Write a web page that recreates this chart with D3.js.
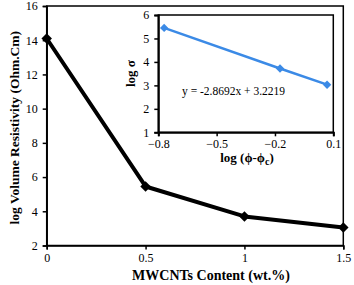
<!DOCTYPE html>
<html>
<head>
<meta charset="utf-8">
<script src="https://cdn.jsdelivr.net/npm/d3@7"></script>
<style>
  body { margin: 0; background: #fff; }
  svg { display: block; font-family: "Liberation Serif", "Times New Roman", serif; }
</style>
</head>
<body>
<svg id="chart" width="354" height="285"></svg>
<script>
// main series: log volume resistivity vs MWCNT content
const content = [0, 0.5, 1, 1.5]
const logRes = [14.1, 5.45, 3.7, 3.05]
const mainXTicks = [0, 0.5, 1, 1.5]
const mainYTicks = [2, 4, 6, 8, 10, 12, 14, 16]

// inset: log sigma vs log(phi - phi_c)
const logPhi = [-0.77, -0.174, 0.068]
const logSigma = [5.45, 3.72, 3.03]
const insetXTicks = [-0.8, -0.5, -0.2, 0.1]
const insetYTicks = [1, 2, 3, 4, 5, 6]
const equation = 'y = -2.8692x + 3.2219'

const svg = d3.select('#chart')

const x = d3.scaleLinear().domain([0, 1.5]).range([46.7, 343.3])
const y = d3.scaleLinear().domain([2, 16]).range([245.5, 6])

const fmt = (d) => (d === 0 ? '0' : String(d))

/* main frame and axes */
svg.append('rect')
  .attr('x', x(0)).attr('y', y(16))
  .attr('width', x(1.5) - x(0)).attr('height', y(2) - y(16))
  .attr('fill', 'none').attr('stroke', '#000').attr('stroke-width', 1.5)

const gy = svg.append('g')
  .attr('transform', `translate(${x(0)},0)`)
  .call(d3.axisLeft(y).tickValues(mainYTicks).tickSize(4).tickPadding(5).tickFormat(fmt))
const gx = svg.append('g')
  .attr('transform', `translate(0,${y(2)})`)
  .call(d3.axisBottom(x).tickValues(mainXTicks).tickSize(4).tickPadding(4).tickFormat(fmt))
;[gx, gy].forEach((g) => {
  g.select('.domain').attr('stroke-width', 1.5)
  g.selectAll('.tick line').attr('stroke-width', 1.5)
  g.selectAll('.tick text').attr('font-size', 12).attr('font-family', 'Liberation Serif').attr('fill', '#000')
})

const mainPts = content.map((c, i) => [x(c), y(logRes[i])])
svg.append('path')
  .attr('d', d3.line()(mainPts))
  .attr('fill', 'none').attr('stroke', '#000').attr('stroke-width', 4)
  .attr('stroke-linejoin', 'round')
svg.selectAll('path.mk')
  .data(mainPts)
  .join('path')
  .attr('class', 'mk')
  .attr('d', d3.symbol(d3.symbolDiamond2, 70)())
  .attr('transform', (d) => `translate(${d[0]},${d[1]})`)
  .attr('fill', '#000')

svg.append('text')
  .attr('transform', `translate(19,${(y(2) + y(16)) / 2 + 2}) rotate(-90)`)
  .attr('text-anchor', 'middle')
  .attr('font-size', 13.5).attr('font-weight', 'bold')
  .text('log Volume Resistivity (Ohm.Cm)')
svg.append('text')
  .attr('x', 211).attr('y', 280)
  .attr('text-anchor', 'middle')
  .attr('font-size', 14).attr('font-weight', 'bold')
  .text('MWCNTs Content (wt.%)')

/* inset */
const ix = d3.scaleLinear().domain([-0.8, 0.1]).range([158.3, 333.3])
const iy = d3.scaleLinear().domain([1, 6]).range([132.3, 15])

svg.append('rect')
  .attr('x', ix(-0.8)).attr('y', iy(6))
  .attr('width', ix(0.1) - ix(-0.8)).attr('height', iy(1) - iy(6))
  .attr('fill', '#fff').attr('stroke', '#000').attr('stroke-width', 1.5)

const igy = svg.append('g')
  .attr('transform', `translate(${ix(-0.8)},0)`)
  .call(d3.axisLeft(iy).tickValues(insetYTicks).tickSize(4).tickPadding(5).tickFormat(fmt))
const igx = svg.append('g')
  .attr('transform', `translate(0,${iy(1)})`)
  .call(d3.axisBottom(ix).tickValues(insetXTicks).tickSize(4).tickPadding(3).tickFormat(d3.format('.1f')))
;[igx, igy].forEach((g) => {
  g.select('.domain').attr('stroke-width', 2)
  g.selectAll('.tick line').attr('stroke-width', 1.5)
  g.selectAll('.tick text').attr('font-size', 12).attr('font-family', 'Liberation Serif').attr('fill', '#000')
})

const insetPts = logPhi.map((p, i) => [ix(p), iy(logSigma[i])])
svg.append('path')
  .attr('d', d3.line()(insetPts))
  .attr('fill', 'none').attr('stroke', '#3b8ae6').attr('stroke-width', 2.5)
svg.selectAll('path.imk')
  .data(insetPts)
  .join('path')
  .attr('class', 'imk')
  .attr('d', d3.symbol(d3.symbolDiamond2, 45)())
  .attr('transform', (d) => `translate(${d[0]},${d[1]})`)
  .attr('fill', '#3b8ae6')

svg.append('text')
  .attr('x', 182).attr('y', 95)
  .attr('font-size', 11.5)
  .text(equation)

svg.append('text')
  .attr('transform', `translate(135,${(iy(1) + iy(6)) / 2}) rotate(-90)`)
  .attr('text-anchor', 'middle')
  .attr('font-size', 13).attr('font-weight', 'bold')
  .text('log σ')

const xt = svg.append('text')
  .attr('x', 247).attr('y', 162)
  .attr('text-anchor', 'middle')
  .attr('font-size', 13).attr('font-weight', 'bold')
xt.append('tspan').text('log (ϕ-ϕ')
xt.append('tspan').attr('font-size', 10).attr('dy', 3).text('c')
xt.append('tspan').attr('dy', -3).text(')')
</script>
</body>
</html>
